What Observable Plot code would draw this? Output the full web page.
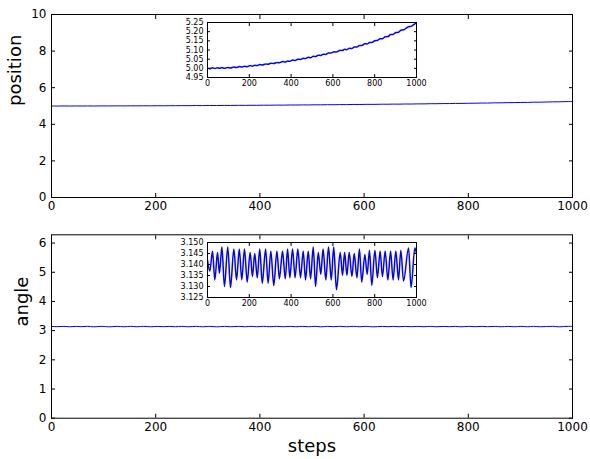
<!DOCTYPE html>
<html>
<head>
<meta charset="utf-8">
<script src="https://cdn.jsdelivr.net/npm/d3@7"></script>
<script src="https://cdn.jsdelivr.net/npm/@observablehq/plot@0.6"></script>
<style>
  html, body { margin: 0; padding: 0; background: white; }
  #chart { position: relative; width: 590px; height: 459px; background: white; font-family: "DejaVu Sans", sans-serif; }
  #chart svg { position: absolute; overflow: visible; }
</style>
</head>
<body>
<div id="chart"></div>
<script>
const steps = [0,11,24,35,48,57,69,81,97,110,126,139,152,164,177,190,204,215,226,238,250,262,278,290,303,317,332,344,359,372,383,394,407,419,432,445,458,469,482,493,506,517,530,542,553,566,579,592,604,617,635,646,656,667,678,691,702,715,727,738,753,764,775,786,801,813,826,837,850,863,876,888,901,914,925,938,962,974,992,1000];
const position = [5.001,4.998,5.003,4.999,5.003,5.000,5.004,5.000,5.005,5.002,5.007,5.004,5.010,5.007,5.012,5.009,5.015,5.012,5.017,5.015,5.021,5.018,5.024,5.022,5.028,5.026,5.032,5.030,5.037,5.034,5.040,5.038,5.045,5.043,5.050,5.048,5.055,5.053,5.060,5.058,5.066,5.064,5.072,5.070,5.077,5.076,5.084,5.083,5.090,5.089,5.098,5.097,5.104,5.102,5.109,5.108,5.116,5.116,5.125,5.124,5.134,5.133,5.141,5.141,5.151,5.152,5.162,5.162,5.172,5.173,5.184,5.185,5.195,5.197,5.208,5.210,5.227,5.229,5.243,5.248];
const angle = [3.142,3.137,3.146,3.133,3.1455,3.136,3.148,3.130,3.148,3.1295,3.147,3.133,3.147,3.133,3.147,3.132,3.1455,3.1345,3.145,3.134,3.147,3.1315,3.147,3.1315,3.146,3.1305,3.146,3.1335,3.146,3.1335,3.147,3.134,3.147,3.134,3.147,3.134,3.146,3.133,3.146,3.1335,3.148,3.130,3.1455,3.1355,3.147,3.133,3.148,3.133,3.148,3.1285,3.1455,3.135,3.1455,3.135,3.1455,3.1345,3.145,3.134,3.147,3.132,3.1445,3.1355,3.1465,3.1305,3.1465,3.134,3.146,3.1345,3.146,3.133,3.146,3.133,3.146,3.133,3.1465,3.1325,3.1475,3.1295,3.1475,3.145];

const xTicks = [0,200,400,600,800,1000];
const positionTicks = [0,2,4,6,8,10];
const angleTicks = [0,1,2,3,4,5,6];
const positionInsetTicks = [4.95,5.00,5.05,5.10,5.15,5.20,5.25];
const angleInsetTicks = [3.125,3.130,3.135,3.140,3.145,3.150];

const data = steps.map((s, i) => ({step: s, position: position[i], angle: angle[i]}));

const FONT = "DejaVu Sans";
const BLUE = "#0000ff";

function boxAxes(xt, yt, tick, fs, yfmt, pad) {
  const blank = () => "";
  return [
    Plot.axisX(xt, {anchor: "bottom", tickSize: -tick, tickFormat: blank, label: null}),
    Plot.axisX(xt, {anchor: "top", tickSize: -tick, tickFormat: blank, label: null}),
    Plot.axisY(yt, {anchor: "left", tickSize: -tick, tickFormat: blank, label: null}),
    Plot.axisY(yt, {anchor: "right", tickSize: -tick, tickFormat: blank, label: null}),
    Plot.axisX(xt, {anchor: "bottom", tickSize: 0, tickPadding: pad.x, fontSize: fs, tickFormat: d => String(d), label: null}),
    Plot.axisY(yt, {anchor: "left", tickSize: 0, tickPadding: pad.y, fontSize: fs, tickFormat: yfmt, label: null})
  ];
}

function place(svg, left, top) {
  svg.style.left = left + "px";
  svg.style.top = top + "px";
  document.getElementById("chart").appendChild(svg);
}

// Top main plot: position
const top1 = Plot.plot({
  width: 590, height: 230,
  marginLeft: 51, marginRight: 18, marginTop: 14, marginBottom: 33,
  style: {fontFamily: FONT, fontSize: "12px", color: "black", background: "transparent", overflow: "visible"},
  x: {domain: [0, 1000], axis: null},
  y: {domain: [0, 10], axis: null},
  marks: [
    Plot.line(data, {x: "step", y: "position", stroke: BLUE, strokeWidth: 1, curve: "monotone-x", clip: true}),
    ...boxAxes(xTicks, positionTicks, 4, 12, d => String(d), {x: 4, y: 5}),
    Plot.frame({stroke: "black", strokeWidth: 1}),
    Plot.text(["position"], {frameAnchor: "left", dx: -36, rotate: -90, fontSize: 18, text: d => d, fill: "black"})
  ]
});
place(top1, 0, 0);

// Bottom main plot: angle
const bot1 = Plot.plot({
  width: 590, height: 239,
  marginLeft: 51, marginRight: 18, marginTop: 14.3, marginBottom: 41.3,
  style: {fontFamily: FONT, fontSize: "12px", color: "black", background: "transparent", overflow: "visible"},
  x: {domain: [0, 1000], axis: null},
  y: {domain: [0, 2 * Math.PI], axis: null},
  marks: [
    Plot.line(data, {x: "step", y: "angle", stroke: BLUE, strokeWidth: 1, curve: "monotone-x", clip: true}),
    ...boxAxes(xTicks, angleTicks, 4, 12, d => String(d), {x: 4, y: 5}),
    Plot.frame({stroke: "black", strokeWidth: 1}),
    Plot.text(["angle"], {frameAnchor: "left", dx: -29, rotate: -90, fontSize: 18, text: d => d, fill: "black"}),
    Plot.text(["steps"], {frameAnchor: "bottom", dy: 34, fontSize: 18, text: d => d, fill: "black"})
  ]
});
place(bot1, 0, 220);

// Inset: position
const ins1 = Plot.plot({
  width: 260, height: 85,
  marginLeft: 37, marginRight: 14, marginTop: 10, marginBottom: 20,
  style: {fontFamily: FONT, fontSize: "8px", color: "black", background: "transparent", overflow: "visible"},
  x: {domain: [0, 1000], axis: null},
  y: {domain: [4.95, 5.25], axis: null},
  marks: [
    Plot.frame({fill: "white"}),
    Plot.line(data, {x: "step", y: "position", stroke: BLUE, strokeWidth: 1.5, curve: "monotone-x", clip: true}),
    ...boxAxes(xTicks, positionInsetTicks, 3, 8, d3.format(".2f"), {x: 3, y: 4}),
    Plot.frame({stroke: "black", strokeWidth: 1})
  ]
});
place(ins1, 170, 12.3);

// Inset: angle
const ins2 = Plot.plot({
  width: 260, height: 85,
  marginLeft: 37, marginRight: 14, marginTop: 10, marginBottom: 20,
  style: {fontFamily: FONT, fontSize: "8px", color: "black", background: "transparent", overflow: "visible"},
  x: {domain: [0, 1000], axis: null},
  y: {domain: [3.125, 3.150], axis: null},
  marks: [
    Plot.frame({fill: "white"}),
    Plot.line(data, {x: "step", y: "angle", stroke: BLUE, strokeWidth: 1.5, curve: "monotone-x", clip: true}),
    ...boxAxes(xTicks, angleInsetTicks, 3, 8, d3.format(".3f"), {x: 3, y: 4}),
    Plot.frame({stroke: "black", strokeWidth: 1})
  ]
});
place(ins2, 170, 232.3);
</script>
</body>
</html>
